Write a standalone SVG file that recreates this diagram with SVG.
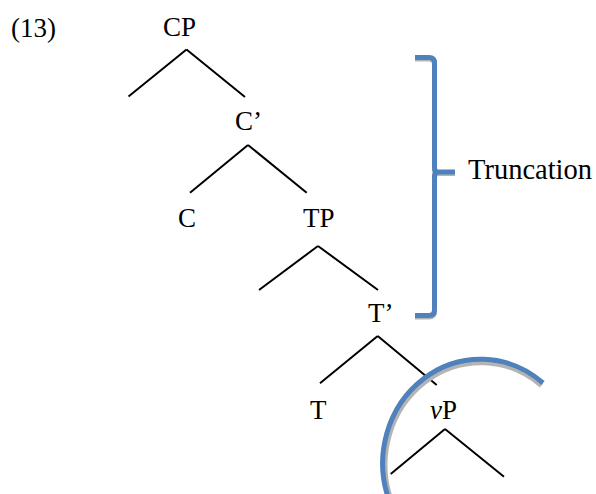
<svg xmlns="http://www.w3.org/2000/svg" width="596" height="494" viewBox="0 0 596 494">
<style>
text{font-family:"Liberation Serif","Times New Roman",serif;font-size:27px;fill:#000}
.edge{stroke:#000;stroke-width:2;fill:none;stroke-linecap:butt}
.blue{stroke:#4f81bd;stroke-width:5;fill:none}
.shadow{stroke:#b4b4b4;stroke-width:5;fill:none}
</style>
<rect width="596" height="494" fill="#fff"/>
<text x="11" y="37">(13)</text>
<g id="connectors">
<path class="edge" d="M186.5 49.5 L128.5 96.5 M186.5 49.5 L245 97"/>
<path class="edge" d="M248 145 L190 192.7 M248 145 L306.7 192.7"/>
<path class="edge" d="M318 246 L259 290 M318 246 L378 290"/>
<path class="edge" d="M377.7 336 L320 383.3 M377.7 336 L436.7 385"/>
<path class="edge" d="M445 429 L390.7 474 M445 429 L504 476.7"/>
</g>
<g id="CP"><text x="163" y="36">CP</text></g>
<g id="Cbar"><text x="235" y="130">C’</text></g>
<g id="C"><text x="178" y="227">C</text></g>
<g id="TP"><text x="303" y="227">TP</text></g>
<g id="Tbar"><text x="368" y="322">T’</text></g>
<g id="T"><text x="310" y="418.5">T</text></g>
<g id="vP"><text x="430" y="419"><tspan font-style="italic">v</tspan>P</text></g>
<g id="bracket">
<path class="shadow" d="M415 59 L429 59 Q434.5 59 434.5 64 L434.5 169 Q434.5 173.5 438 173.5 L455 173.5 M438 173.5 Q434.5 173.5 434.5 178 L434.5 311 Q434.5 317 429 317 L415 317"/>
<path class="blue" d="M415 57.5 L429 57.5 Q434.5 57.5 434.5 63 L434.5 168 Q434.5 172 438 172 L455 172 M438 172 Q434.5 172 434.5 176 L434.5 310 Q434.5 315.5 429 315.5 L415 315.5"/>
</g>
<g id="Truncation"><text x="468" y="179" style="font-size:28.5px">Truncation</text></g>
<g id="circle">
<path class="shadow" d="M541.5 385.5 A96 102 0 0 0 391 500"/>
<path class="blue" d="M543 383 A98 104 0 0 0 389 500"/>
</g>
</svg>
